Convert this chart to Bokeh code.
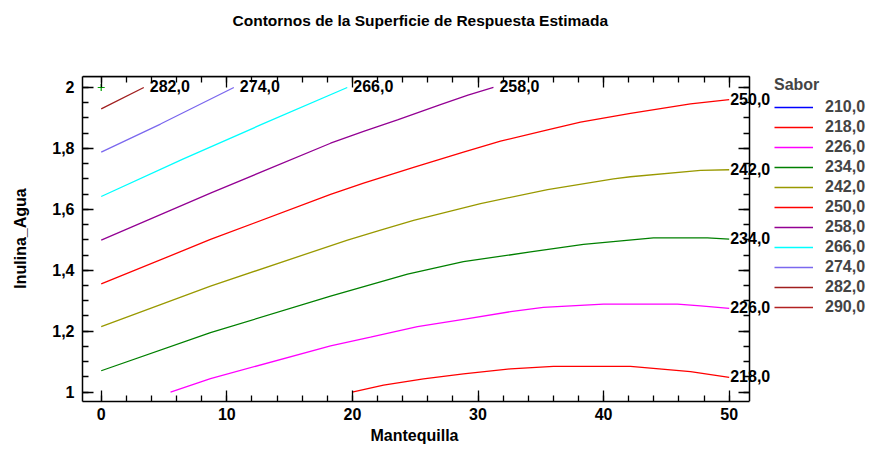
from bokeh.plotting import figure
from bokeh.models import (Range1d, FixedTicker, CustomJSTickFormatter, LinearAxis,
                          Legend, LegendItem, ColumnDataSource, LabelSet, Title)
from bokeh.core.properties import value
from bokeh.embed import file_html
from bokeh.resources import INLINE

# ---------------- data ----------------
levels = [210, 218, 226, 234, 242, 250, 258, 266, 274, 282, 290]
level_labels = ["210,0", "218,0", "226,0", "234,0", "242,0", "250,0",
                "258,0", "266,0", "274,0", "282,0", "290,0"]
level_colors = ["#0000FF", "#FF0000", "#FF00FF", "#008000", "#999900", "#FF0000",
                "#930093", "#00FFFF", "#7B68EE", "#A01E1E", "#B22222"]

x_218 = [19.98, 22.48, 25.66, 28.84, 32.59, 36.01, 42.14, 46.92, 50.0]
y_218 = [1.000, 1.023, 1.043, 1.060, 1.076, 1.084, 1.084, 1.067, 1.048]

x_226 = [5.52, 8.70, 18.26, 21.44, 25.18, 28.84, 32.59, 35.20, 39.99, 45.88, 47.72, 50.0]
y_226 = [1.000, 1.044, 1.152, 1.180, 1.215, 1.239, 1.264, 1.278, 1.289, 1.289, 1.283, 1.275]

x_234 = [0.0, 8.70, 18.26, 24.39, 28.84, 34.18, 38.40, 43.97, 48.27, 50.0]
y_234 = [1.070, 1.195, 1.315, 1.387, 1.428, 1.460, 1.485, 1.506, 1.506, 1.502]

x_242 = [0.0, 8.70, 19.61, 22.24, 24.87, 30.20, 35.54, 40.79, 42.14, 47.72, 50.0]
y_242 = [1.215, 1.348, 1.499, 1.532, 1.564, 1.619, 1.665, 1.700, 1.707, 1.728, 1.730]

x_250 = [0.0, 8.70, 18.26, 20.89, 24.87, 28.84, 31.79, 35.54, 38.16, 42.14, 46.92, 50.0]
y_250 = [1.355, 1.501, 1.649, 1.686, 1.738, 1.788, 1.824, 1.861, 1.886, 1.915, 1.946, 1.960]

x_258 = [0.0, 8.70, 18.26, 20.89, 23.59, 27.01, 29.20, 31.23]
y_258 = [1.499, 1.653, 1.817, 1.856, 1.894, 1.944, 1.975, 2.000]

x_266 = [0.0, 6.5, 12.68, 19.59]
y_266 = [1.642, 1.765, 1.877, 2.000]

x_274 = [0.0, 4.72, 10.56]
y_274 = [1.788, 1.880, 2.000]

x_282 = [0.0, 3.39]
y_282 = [1.930, 2.000]

NAN = float("nan")
curves = {210: ([NAN], [NAN]), 218: (x_218, y_218), 226: (x_226, y_226),
          234: (x_234, y_234), 242: (x_242, y_242), 250: (x_250, y_250),
          258: (x_258, y_258), 266: (x_266, y_266), 274: (x_274, y_274),
          282: (x_282, y_282), 290: ([NAN], [NAN])}

opt_x = [0.0]
opt_y = [2.0]

x_lim = (-1.49, 51.6)
y_lim = (0.969, 2.035)
x_ticks = [0, 10, 20, 30, 40, 50]
x_minor = [i * 2 for i in range(0, 26)]
y_ticks = [1.0, 1.2, 1.4, 1.6, 1.8, 2.0]
y_minor = [round(0.95 + 0.05 * i, 2) for i in range(1, 22)]

FONT = "Liberation Sans"
TITLE = "Contornos de la Superficie de Respuesta Estimada"

# ---------------- figure ----------------
W, H = 872, 449
B_LEFT, B_TOP, B_BOTTOM = 82, 75, 47
PX_PER_Y = 305.5
frame_h = H - B_TOP - B_BOTTOM
y_top = y_lim[0] + frame_h / PX_PER_Y     # about one pixel above the box

# frame extends past the box so the contour labels and legend are not clipped
p = figure(width=W, height=H, output_backend="svg", toolbar_location=None,
           x_range=Range1d(x_lim[0], 61.41), y_range=Range1d(y_lim[0], y_top),
           min_border_left=B_LEFT, min_border_right=0, min_border_top=B_TOP,
           min_border_bottom=B_BOTTOM)
p.title = None
p.grid.visible = False
p.outline_line_color = None
p.background_fill_color = "white"
p.border_fill_color = "white"

fmt = CustomJSTickFormatter(code="return (Math.round(tick*10)/10).toString().replace('.', ',');")
blank_fmt = CustomJSTickFormatter(code="return '';")

def style_axis(ax, show_labels=True):
    ax.axis_line_color = "black"
    ax.axis_line_width = 1.5
    ax.major_tick_in = 11
    ax.major_tick_out = 0
    ax.minor_tick_in = 6
    ax.minor_tick_out = 0
    ax.major_tick_line_color = "black"
    ax.minor_tick_line_color = "black"
    ax.major_tick_line_width = 1.3
    ax.minor_tick_line_width = 1.3
    ax.formatter = fmt if show_labels else blank_fmt
    ax.major_label_text_font = FONT
    ax.major_label_text_font_style = "bold"
    ax.major_label_text_font_size = "16px"
    ax.major_label_text_color = "black"
    ax.major_label_standoff = 6 if show_labels else 0
    ax.axis_label_text_font = FONT
    ax.axis_label_text_font_style = "bold"
    ax.axis_label_text_font_size = "16px"
    ax.axis_label_text_color = "black"

p.xaxis.ticker = FixedTicker(ticks=x_ticks, minor_ticks=x_minor)
p.yaxis.ticker = FixedTicker(ticks=y_ticks, minor_ticks=y_minor)
for ax in p.xaxis:
    style_axis(ax)
    ax.bounds = x_lim
for ax in p.yaxis:
    style_axis(ax)
    ax.bounds = y_lim
    ax.major_label_standoff = 8
    ax.axis_label = "Inulina_Agua"
    ax.axis_label_standoff = 20

right_ax = LinearAxis(ticker=FixedTicker(ticks=y_ticks, minor_ticks=y_minor),
                      fixed_location=x_lim[1], bounds=y_lim)
style_axis(right_ax, show_labels=False)
p.add_layout(right_ax, "right")

# x axis title (placed under the boxed area, not the wider frame)
p.add_layout(Title(text="Mantequilla", align="left", offset=288, standoff=8,
                   vertical_align="top", text_font=FONT, text_font_style="bold",
                   text_font_size="16px", text_color="black"), "below")

# top edge of the box: label-free x axes pinned at the top limit,
# ticks hang down into the box (minor ticks only, so no tick labels exist)
for tick_list, tick_len in ((x_ticks, 11), (x_minor, 6)):
    edge = LinearAxis(ticker=FixedTicker(ticks=[], minor_ticks=tick_list),
                      fixed_location=y_lim[1], bounds=x_lim)
    edge.axis_line_color = "black"
    edge.axis_line_width = 1.5
    edge.major_tick_in = 0
    edge.major_tick_out = 0
    edge.minor_tick_in = 0
    edge.minor_tick_out = tick_len
    edge.minor_tick_line_color = "black"
    edge.minor_tick_line_width = 1.3
    edge.major_label_standoff = 0
    edge.formatter = blank_fmt
    p.add_layout(edge, "below")

# chart title, lifted by an invisible spacer row
p.add_layout(Title(text="\u00a0", standoff=23, text_font=FONT,
                   text_font_size="16px", text_color="white"), "above")
p.add_layout(Title(text=TITLE, align="left", offset=150, standoff=10,
                   text_font=FONT, text_font_style="bold", text_font_size="15.5px",
                   text_color="black"), "above")

# ---------------- contour lines ----------------
items = []
lab_x, lab_y, lab_t, lab_off = [], [], [], []
for lev, lab, col in zip(levels, level_labels, level_colors):
    xs, ys = curves[lev]
    r = p.line(xs, ys, line_color=col, line_width=1.3)
    items.append(LegendItem(label=lab, renderers=[r]))
    if xs[-1] == xs[-1]:
        lab_x.append(xs[-1])
        lab_y.append(ys[-1])
        lab_t.append(lab)
        lab_off.append(1 if xs[-1] >= 49.9 else 6)

p.scatter(opt_x, opt_y, marker="cross", size=7, line_color="#00A000", line_width=1.2)

lsrc = ColumnDataSource(dict(x=lab_x, y=lab_y, text=lab_t, xo=lab_off))
labels = LabelSet(x="x", y="y", text="text", source=lsrc, x_offset="xo", y_offset=1,
                  text_font=value(FONT), text_font_style="bold", text_font_size="16px",
                  text_color="black", text_baseline="middle", text_align="left")
p.add_layout(labels)

legend = Legend(items=items, location=(692, 84), margin=0, padding=0,
                title="Sabor", title_text_font=FONT, title_text_font_style="bold",
                title_text_font_size="16px", title_standoff=3,
                label_text_font=FONT, label_text_font_style="bold",
                label_text_font_size="16px", label_standoff=12,
                glyph_width=39, glyph_height=20, label_height=20, spacing=0,
                border_line_color=None, background_fill_alpha=0)
p.add_layout(legend)

open("out.html", "w").write(file_html(p, INLINE))
